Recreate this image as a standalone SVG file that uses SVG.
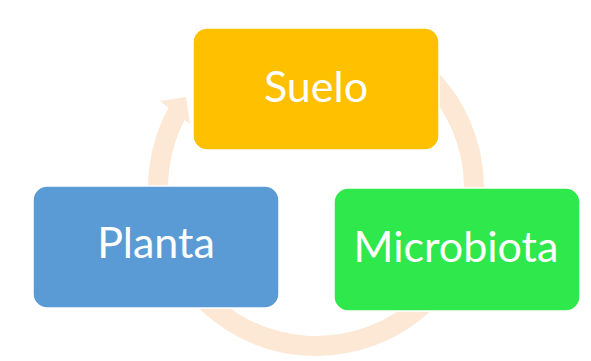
<svg xmlns="http://www.w3.org/2000/svg" width="591" height="361" viewBox="0 0 591 361">
  <style>
    .box { stroke: #ffffff; stroke-width: 1.5; }
    .lbl { font-family: Lato, "Open Sans", "Liberation Sans", sans-serif; font-size: 43px; fill: #ffffff; text-anchor: middle; }
    .ring { fill: none; stroke: #FCE8D4; stroke-width: 20; }
    .head { fill: #FCE8D4; }
  </style>
  <rect width="591" height="361" fill="#ffffff"/>
  <g id="connectors">
    <path class="ring" d="M370,39.5 A158,158 0 1 1 178.5,110.2"/>
    <polygon class="head" points="160,101 186,97 190,124"/>
  </g>
  <g id="suelo">
    <rect class="box" x="193" y="28" width="246" height="122" rx="14" fill="#FFC000"/>
    <text class="lbl" x="316" y="102">Suelo</text>
  </g>
  <g id="microbiota">
    <rect class="box" x="334" y="188" width="246" height="123" rx="14" fill="#2FE84B"/>
    <text class="lbl" x="456" y="262">Microbiota</text>
  </g>
  <g id="planta">
    <rect class="box" x="33" y="186" width="246" height="122" rx="14" fill="#5B9BD5"/>
    <text class="lbl" x="156" y="258">Planta</text>
  </g>
</svg>
